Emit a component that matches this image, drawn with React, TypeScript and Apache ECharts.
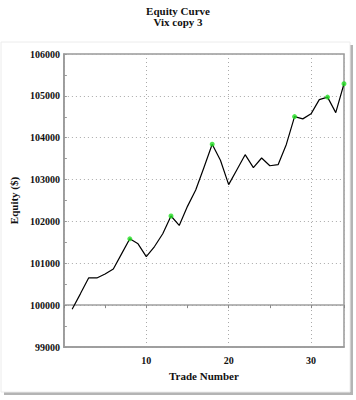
import React, { useEffect, useRef } from "react";
import * as echarts from "echarts";

const trades = [1, 2, 3, 4, 5, 6, 7, 8, 9, 10, 11, 12, 13, 14, 15, 16, 17, 18, 19, 20, 21, 22, 23, 24, 25, 26, 27, 28, 29, 30, 31, 32, 33, 34];
const equity = [99904, 100270, 100650, 100650, 100745, 100865, 101225, 101585, 101465, 101160, 101400, 101705, 102130, 101905, 102360, 102750, 103290, 103845, 103460, 102880, 103235, 103595, 103285, 103515, 103330, 103355, 103840, 104505, 104450, 104570, 104910, 104970, 104600, 105290];
const highlightTrades = [8, 13, 18, 28, 32, 34];
const yMin = 99000;
const yMax = 106000;
const yStep = 1000;
const baseLine = 100000;
const xTickLabels = [10, 20, 30];
const titleText = "Equity Curve";
const subtitleText = "Vix copy 3";

const FONT = "'Liberation Serif', 'DejaVu Serif', serif";

export default function App() {
  const ref = useRef<HTMLDivElement>(null);
  useEffect(() => {
    if (!ref.current) return;
    const chart = echarts.init(ref.current, null, { renderer: "svg" });
    const H = 400;
    const gTop = 54, gBottom = 53;
    const plotH = H - gTop - gBottom;
    const baseOffset = -plotH * (baseLine - yMin) / (yMax - yMin);
    const lineData = trades.map((t, i) => [t, equity[i]]);
    const markData = highlightTrades.map((t) => [t, equity[trades.indexOf(t)]]);
    const labelStyle = { fontFamily: FONT, fontWeight: "bold", fontSize: 10, color: "#111" };
    const titleFont = { fontFamily: FONT, fontWeight: "bold", fontSize: 11, fill: "#111", align: "center", verticalAlign: "middle" };
    chart.setOption({
      animation: false,
      backgroundColor: "#fff",
      graphic: [
        { type: "text", x: 178, y: 11, style: { text: titleText, ...titleFont }, silent: true },
        { type: "text", x: 178, y: 22, style: { text: subtitleText, ...titleFont }, silent: true },
        { type: "rect", z: -10, shape: { x: 4, y: 45, width: 349, height: 350 }, style: { fill: "#b4b4b4" }, silent: true },
        { type: "rect", z: -9, shape: { x: 1, y: 42, width: 349, height: 350 }, style: { fill: "#fff", stroke: "#ececec", lineWidth: 1 }, silent: true },
      ],
      grid: { left: 62, right: 12, top: gTop, bottom: gBottom, show: true, borderColor: "#999", borderWidth: 1.5, backgroundColor: "transparent" },
      xAxis: [
        {
          type: "value",
          min: 0,
          max: 34,
          interval: 10,
          name: "Trade Number",
          nameLocation: "middle",
          nameGap: 23,
          nameTextStyle: { ...labelStyle, fontSize: 11 },
          axisLine: { show: true, lineStyle: { color: "#999", width: 1.5 } },
          axisTick: { show: false },
          axisLabel: { ...labelStyle, margin: 8, formatter: (v: number) => (xTickLabels.indexOf(v) >= 0 ? String(v) : "") },
          splitLine: { show: true, lineStyle: { type: [1, 3], color: "#aaa", width: 1 } },
        },
        {
          type: "value",
          min: 0,
          max: 34,
          interval: 5,
          position: "bottom",
          offset: baseOffset,
          axisLine: { show: true, lineStyle: { color: "#a0a0a0", width: 1.5 } },
          axisTick: { show: true, length: 3, lineStyle: { color: "#888" } },
          axisLabel: { show: false },
          splitLine: { show: false },
        },
      ],
      yAxis: {
        type: "value",
        min: yMin,
        max: yMax,
        interval: yStep,
        name: "Equity ($)",
        nameLocation: "middle",
        nameGap: 39,
        nameTextStyle: { ...labelStyle, fontSize: 11 },
        axisLine: { show: true, lineStyle: { color: "#999", width: 1.5 } },
        axisTick: { show: true, inside: true, length: 3, lineStyle: { color: "#999" } },
        minorTick: { show: true, splitNumber: 2, length: 3, lineStyle: { color: "#999" } },
        axisLabel: { ...labelStyle, margin: 4, formatter: (v: number) => String(v) },
        splitLine: { show: true, lineStyle: { type: [1, 3], color: "#aaa", width: 1 } },
      },
      series: [
        {
          type: "line",
          data: lineData,
          symbol: "none",
          lineStyle: { color: "#000", width: 1.2 },
          z: 3,
        },
        {
          type: "scatter",
          data: markData,
          symbol: "circle",
          symbolSize: 5,
          itemStyle: { color: "#22e022" },
          z: 4,
        },
      ],
    });
    return () => chart.dispose();
  }, []);
  return <div ref={ref} style={{ position: "fixed", left: 0, top: 0, width: 356, height: 400 }} />;
}
